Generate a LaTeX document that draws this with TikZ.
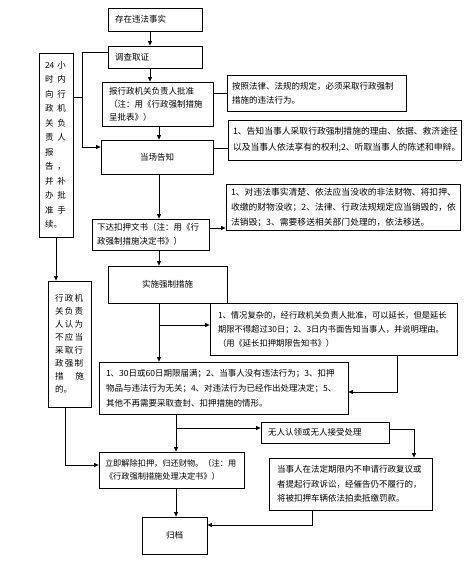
\documentclass[tikz,border=0pt]{standalone}
\usepackage{fontspec}
\setmainfont{Noto Sans CJK SC}
\usetikzlibrary{arrows.meta}
\newcommand{\pr}[2]{\makebox[9.4pt][l]{#1}\hspace{3pt}#2}
\newcommand{\ts}{\hspace{1.3pt}}
\tikzset{
  box/.style={draw, line width=0.8pt, inner sep=0pt, font=\fontsize{8.5}{14}\selectfont, align=left},
  arr/.style={-{Triangle[length=4.5pt,width=4pt]}, line width=0.8pt},
  ln/.style={line width=0.8pt},
}
\begin{document}
\begin{tikzpicture}[x=1pt,y=-1pt]
\fill[white] (0,0) rectangle (472,580);
\useasboundingbox (0,0) rectangle (472,580);

\node[box, minimum width=94pt, minimum height=23pt, text width=80pt] (fact) at (155,19.5) {存在违法事实};
\node[box, minimum width=94pt, minimum height=22pt, text width=80pt] (inv) at (155,57) {调查取证};
\node[box, minimum width=111pt, minimum height=44pt, text width=97pt, font=\fontsize{8.5}{13}\selectfont] (rep) at (157.5,104) {报行政机关负责人批准\\（注：用《行政强制措施\\呈批表》）};
\node[box, minimum width=112pt, minimum height=34pt, align=center] (notify) at (157,157) {当场告知};
\node[box, minimum width=179pt, minimum height=36pt, text width=169pt] (A) at (316.5,93) {按照法律、法规的规定，必须采取行政强制\\措施的违法行为。};
\node[box, minimum width=233pt, minimum height=40pt, text width=223pt, font=\fontsize{8.8}{16}\selectfont] (B) at (344.5,140) {1、告知当事人采取行政强制措施的理由、依据、救济途径\\以及当事人依法享有的权利;2、听取当事人的陈述和申辩。};
\node[box, minimum width=117pt, minimum height=31pt, text width=107pt] (issue) at (150.5,234.5) {下达扣押文书（注：用《行\\政强制措施决定书》）};
\node[box, minimum width=234pt, minimum height=46pt, text width=224pt, font=\fontsize{8.8}{15}\selectfont] (C) at (343,207) {1、对违法事实清楚、依法应当没收的非法财物、将扣押、\\收缴的财物没收；2、法律、行政法规规定应当销毁的，依\\法销毁；3、需要移送相关部门处理的，依法移送。};
\node[box, minimum width=119pt, minimum height=37pt, align=center] (impl) at (167.5,284.5) {实施强制措施};
\node[box, minimum width=247pt, minimum height=52pt, text width=231pt, font=\fontsize{8.3}{14}\selectfont] (D) at (333.5,329) {1、情况复杂的，经行政机关负责人批准，可以延长，但是延长\\期限不得超过30日；2、3日内书面告知当事人，并说明理由。\\（用《延长扣押期限告知书》）};
\node[box, minimum width=249pt, minimum height=52pt, text width=235pt, font=\fontsize{8.5}{15}\selectfont] (E) at (223.5,388) {1、30日或60日期限届满；2、当事人没有违法行为；3、扣押\\物品与违法行为无关；4、对违法行为已经作出处理决定；5、\\其他不再需要采取查封、扣押措施的情形。};
\node[box, minimum width=34pt, minimum height=184pt, text width=22pt, font=\fontsize{8.5}{14.5}\selectfont] (left) at (56,145) {\pr{24}{小}\\\pr{时}{内}\\\pr{向}{行}\\\pr{政}{机}\\\pr{关}{负}\\\pr{责}{人}\\报\\\pr{告}{，}\\\pr{并}{补}\\\pr{办}{批}\\\pr{准}{手}\\续。};
\node[box, minimum width=43pt, minimum height=126pt, text width=29pt, font=\fontsize{8.5}{13}\selectfont] (F) at (69.5,344) {行\ts 政\ts 机\\关\ts 负\ts 责\\人\ts 认\ts 为\\不\ts 应\ts 当\\采\ts 取\ts 行\\政\ts 强\ts 制\\措\hfill 施\\的。};
\node[box, minimum width=145pt, minimum height=36pt, text width=133pt, font=\fontsize{8.2}{13}\selectfont] (rel) at (171.5,470) {立即解除扣押，归还财物。（注：用\\《行政强制措施处理决定书》）};
\node[box, minimum width=128pt, minimum height=21pt, text width=114pt] (none) at (325,432.5) {无人认领或无人接受处理};
\node[box, minimum width=163pt, minimum height=52pt, text width=147pt, font=\fontsize{8.5}{14.5}\selectfont] (G) at (350.5,484) {当事人在法定期限内不申请行政复议或\\者提起行政诉讼，经催告仍不履行的，\\将被扣押车辆依法拍卖抵缴罚款。};
\node[box, minimum width=65pt, minimum height=37pt, align=center] (arch) at (174.5,535.5) {归档};

% coordinates
\coordinate (j1) at (82,52);
\coordinate (j2) at (82,147);
\coordinate (j3) at (65,465);
\coordinate (b1) at (159,325);
\coordinate (j4) at (397,392);
\coordinate (b2) at (176,428);
\coordinate (j5) at (414,429);
\coordinate (j6) at (312,525);

% main chain
\draw[arr] (fact.south -| 150,0) -- (inv.north -| 150,0);
\draw[arr] (inv.south -| 150,0) -- (rep.north -| 150,0);
\draw[arr] (rep.south -| 159,0) -- (notify.north -| 159,0);
\draw[arr] (notify.south -| 159,0) -- (issue.north -| 159,0);
\draw[arr] (issue.south -| 159,0) -- (impl.north -| 159,0);
\draw[arr] (impl.south -| 159,0) -- (E.north -| 159,0);
\draw[arr] (b1) -- (D.west |- b1);

% side boxes
\draw[ln] (rep.east |- 0,93) -- (A.west |- 0,93);
\draw[ln] (notify.east |- 0,148) -- (B.west |- 0,148);
\draw[arr] (issue.east |- 0,228) -- (C.west |- 0,228);

% left branch
\draw[arr] (inv.west |- j1) -- (j1) -- (j2) -- (notify.west |- j2);
\draw[ln] (left.east |- 0,97) -- (j1 |- 0,97);
\draw[arr] (left.south) -- (F.north -| left.south);
\draw[arr] (F.south -| j3) -- (j3) -- (rel.west |- j3);

% lower part
\draw[arr] (D.south -| j4) -- (j4) -- (E.east |- j4);
\draw[arr] (E.south -| b2) -- (rel.north -| b2);
\draw[arr] (b2) -- (none.west |- b2);
\draw[arr] (none.east |- j5) -- (j5) -- (G.north -| j5);
\draw[arr] (rel.south -| b2) -- (arch.north -| b2);
\draw[arr] (G.south -| j6) -- (j6) -- (arch.east |- j6);
\end{tikzpicture}
\end{document}
